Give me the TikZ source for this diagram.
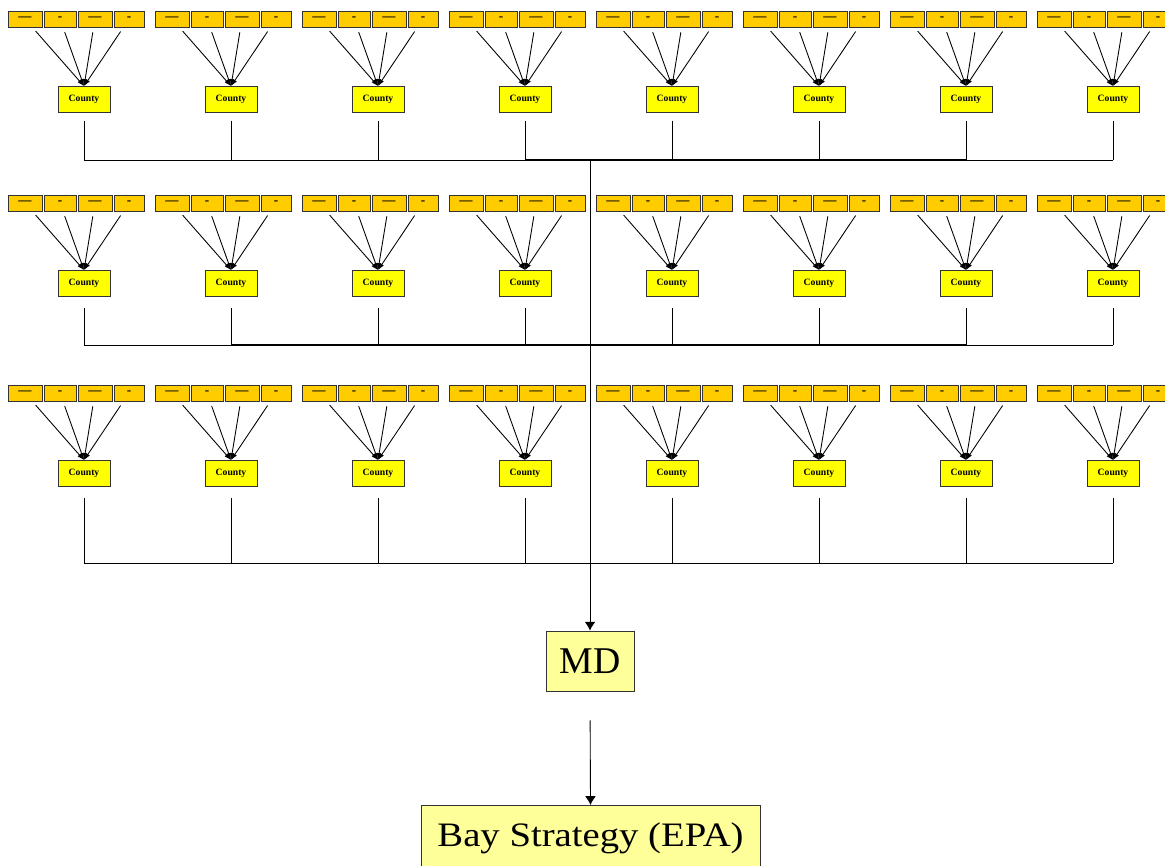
\documentclass[tikz,border=0pt]{standalone}
\usepackage{graphicx}
\usepackage{fontspec}
\setmainfont{Liberation Serif}
\usetikzlibrary{arrows.meta}

\definecolor{leafgold}{HTML}{FFCC00}
\definecolor{countyyellow}{HTML}{FFFF00}
\definecolor{paleyellow}{HTML}{FFFF99}

\begin{document}
\begin{tikzpicture}[x=0.02cm,y=-0.02cm,
    leaf/.style={draw=black!80, fill=leafgold, minimum height=0.32cm, inner sep=0pt,
        font=\fontsize{7.5}{7.5}\selectfont\bfseries},
    county/.style={draw=black!80, fill=countyyellow, minimum width=1.04cm, minimum height=0.52cm,
        inner sep=0pt, font=\fontsize{5.5}{6}\selectfont\bfseries},
    state/.style={draw=black!80, fill=paleyellow, inner sep=0pt},
    feed/.style={-{Latex[length=4pt,width=2.6pt]}, line width=0.5pt, shorten <=0.1cm},
    bus/.style={line width=0.5pt}]

    \useasboundingbox (0,0) rectangle (1165,865);

    % three rows of eight counties, each fed by four boxes
    \foreach \r/\ytop/\busy/\gap in {1/11/160/0.16cm, 2/195/345/0.22cm, 3/385/563/0.22cm}{
        \foreach \g in {0,...,7}{
            \pgfmathsetmacro{\xo}{8+147*\g}
            \foreach \k/\dx/\w/\lab in {1/17/0.68cm/\textemdash, 2/52/0.64cm/-, 3/87/0.68cm/\textemdash, 4/121/0.60cm/-}{
                \node[leaf, minimum width=\w] (l-\r-\g-\k) at (\xo+\dx,\ytop+8) {\lab};
            }
            \node[county] (c-\r-\g) at (\xo+76,\ytop+88.5) {County};
            \foreach \k in {1,...,4}{
                \path[feed] (l-\r-\g-\k) edge (c-\r-\g.north);
            }
            \coordinate (b-\r-\g) at (\xo+76,\busy);
            \draw[bus, shorten <=\gap] (c-\r-\g) -- (b-\r-\g);
        }
        \draw[bus] (b-\r-0) -- (b-\r-7);
    }
    \draw[line width=1pt] (b-1-3) -- (b-1-6);
    \draw[line width=1pt] (b-2-1) -- (b-2-6);

    % state and bay level
    \coordinate (trunk) at (590,160);
    \node[state, minimum width=1.76cm, minimum height=1.2cm,
        font=\fontsize{21.5}{24}\selectfont] (md) at (590,661) {MD};
    \node[state, anchor=north, minimum width=6.78cm, text height=0.456cm, text depth=0.7cm,
        inner ysep=0.36cm, font=\fontsize{19.5}{22}\selectfont] (bay) at (590.5,805)
        {\scalebox{1.13}[1]{Bay Strategy (EPA)}};

    \draw[bus, -{Latex[length=5pt,width=6pt]}] (trunk) -- (md.north);
    \draw[bus, -{Latex[length=5pt,width=6pt]}, shorten <=0.58cm] (md.south) -- (bay.north);
\end{tikzpicture}
\end{document}
